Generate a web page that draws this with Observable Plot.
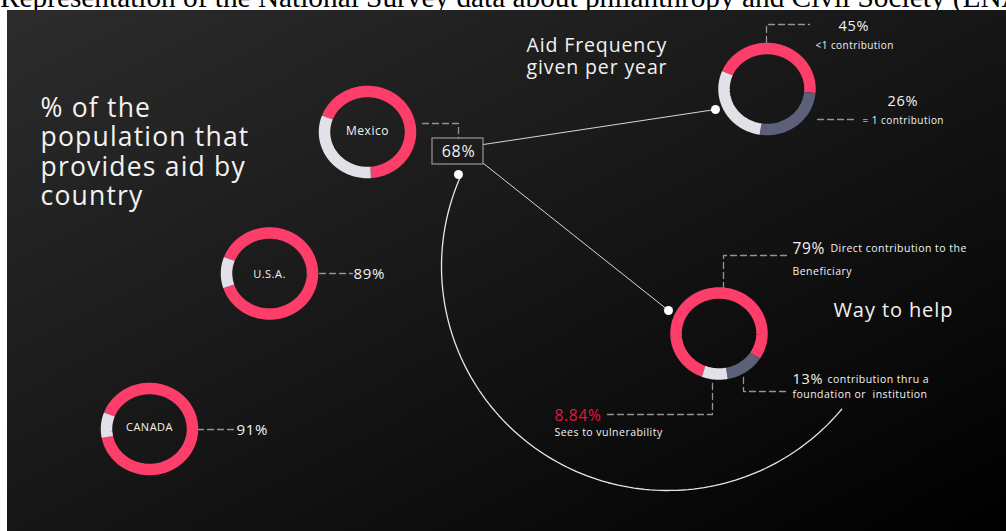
<!DOCTYPE html>
<html><head><meta charset="utf-8">
<script src="https://cdn.jsdelivr.net/npm/d3@7"></script>
<script src="https://cdn.jsdelivr.net/npm/@observablehq/plot@0.6"></script>
<style>
html,body{margin:0;padding:0;background:#fff;}
#title{height:10px;overflow:hidden;position:relative;width:1006px;}
#title div{position:absolute;left:0;top:-17px;font-family:"Liberation Serif","Times New Roman",serif;font-size:29.3px;line-height:29px;white-space:nowrap;color:#000;}
#panel{margin-left:7px;width:999px;height:521px;background:linear-gradient(to bottom right,#2c2c2c 0%,#141414 55%,#000 100%);}
#panel svg{display:block;background:transparent;}
#panel svg text{letter-spacing:0.045em;}
</style></head><body>
<div id="title"><div>Representation of the National Survey data about philanthropy and Civil Society (ENAFI)</div></div>
<div id="panel"></div>
<script>
// ---------- data ----------
const countries = ["Mexico", "U.S.A.", "CANADA"];
const countryShare = [68, 89, 91];
const aidLabels = ["<1 contribution", "= 1 contribution", "> 1 contribution"];
const aidShare = [45, 26, 29];
const helpLabels = ["Direct contribution to the", "contribution thru a", "Sees to vulnerability"];
const helpLabels2 = ["Beneficiary", "foundation or  institution", ""];
const helpShare = [79, 13, 8.84];
const headline = ["% of the", "population that", "provides aid by", "country"];
const aidTitle = ["Aid Frequency", "given per year"];
const helpTitle = ["Way to help"];

// ---------- layout (page coordinates) ----------
const ring = {rx: 43, ry: 40.5, width: 11.5};
const countryPos = [{cx: 367, cy: 131.5}, {cx: 269, cy: 273}, {cx: 149, cy: 428.5}];
const aidPos = {cx: 766.5, cy: 88.5};
const helpPos = {cx: 718.5, cy: 333};
const startAngle = {country: 291, aid: 293, help: 201};
const countryNameBase = [134, 277, 430];
const countryPctPos = [{x: 458, y: 156}, {x: 353, y: 278}, {x: 236, y: 434}];
const aidPctPos = [{x: 838, y: 30}, {x: 887, y: 105}];
const aidLblPos = [{x: 815, y: 48}, {x: 862, y: 123}];
const helpPctPos = [{x: 792, y: 253, c: "#f2f2f2"}, {x: 792, y: 383, c: "#f2f2f2"}, {x: 554, y: 420, c: "#e3163f"}];
const helpLblPos = [{x: 830, y: 251}, {x: 827, y: 382}, {x: 554, y: 435}];
const helpLbl2Pos = [{x: 792, y: 274}, {x: 792, y: 397}];
const box = {x1: 432, x2: 483, y1: 138, y2: 164};
const dashes = [
  [[422, 123], [458, 123], [458, 138]],
  [[319, 273], [352, 273]],
  [[197, 429], [234, 429]],
  [[766, 42], [766, 24], [809, 24]],
  [[817, 119], [855, 119]],
  [[723, 288], [723, 255], [788, 255]],
  [[743, 377], [743, 391], [788, 391]],
  [[712, 383], [712, 414], [604, 414]]
];
const links = [
  [[483, 144], [715, 109]],
  [[483, 163], [668, 310]]
];
const loopArc = {cx: 667, cy: 266, rx: 226, ry: 224, t0: 204, t1: 39.6};
const dotsPos = [[458, 174], [715, 109], [668, 310]];

const pink = "#fd3e6b", light = "#e1e1e7", slate = "#5c6179";
const textCol = "#f2f2f2", dashCol = "#939393";
const font = "'Open Sans', sans-serif";

function arcPoints(values, colors, pos, startDeg, key) {
  const total = d3.sum(values);
  const pts = [];
  let a0 = startDeg;
  values.forEach((v, i) => {
    const a1 = a0 + v / total * 360;
    const n = Math.max(2, Math.ceil((a1 - a0) / 2));
    for (let k = 0; k <= n; k++) {
      const a = (a0 + (a1 - a0) * k / n) * Math.PI / 180;
      pts.push({x: pos.cx + ring.rx * Math.sin(a), y: pos.cy - ring.ry * Math.cos(a), seg: key + "-" + i, color: colors[i]});
    }
    a0 = a1;
  });
  return pts;
}

let ringPts = [];
countryShare.forEach((v, i) => {
  ringPts = ringPts.concat(arcPoints([v, 100 - v], [pink, light], countryPos[i], startAngle.country, "c" + i));
});
ringPts = ringPts.concat(arcPoints(aidShare, [pink, slate, light], aidPos, startAngle.aid, "aid"));
ringPts = ringPts.concat(arcPoints(helpShare, [pink, slate, light], helpPos, startAngle.help, "help"));

const toPts = (paths) => paths.flatMap((p, i) => p.map(([x, y]) => ({x, y, z: i})));
const dashPts = toPts(dashes);
const linkPts = toPts(links);
const loopPts = d3.range(0, 121).map(k => {
  const t = (loopArc.t0 + (loopArc.t1 - loopArc.t0) * k / 120) * Math.PI / 180;
  return {x: loopArc.cx + loopArc.rx * Math.cos(t), y: loopArc.cy + loopArc.ry * Math.sin(t)};
});

const T = (data, opts) => Plot.text(data, Object.assign({fontFamily: font, fill: textCol, lineAnchor: "bottom", textAnchor: "start"}, opts));

const chart = Plot.plot({
  width: 999, height: 521, margin: 0,
  x: {domain: [7, 1006], range: [0, 999], axis: null},
  y: {domain: [10, 531], range: [0, 521], axis: null},
  color: {type: "identity"},
  style: {background: "transparent", overflow: "visible"},
  marks: [
    Plot.line(loopPts, {x: "x", y: "y", stroke: "#e8e8e8", strokeWidth: 1.3}),
    Plot.line(linkPts, {x: "x", y: "y", z: "z", stroke: "#d8d8d8", strokeWidth: 1}),
    Plot.line(dashPts, {x: "x", y: "y", z: "z", stroke: dashCol, strokeWidth: 1.3, strokeDasharray: "6,4"}),
    Plot.rect([box], {x1: "x1", x2: "x2", y1: "y1", y2: "y2", fill: "none", stroke: "#8f8f8f", strokeWidth: 1.3}),
    Plot.line(ringPts, {x: "x", y: "y", z: "seg", stroke: "color", strokeWidth: ring.width, strokeLinecap: "butt", strokeLinejoin: "round"}),
    Plot.dot(dotsPos, {x: d => d[0], y: d => d[1], r: 4.5, fill: "#ffffff"}),
    // headline (one multi-line text, last baseline at y)
    T([headline.join("\n")], {x: 40, y: 116 + 3 * 29.5, text: d => d, fontSize: 26.5, lineHeight: 29.5 / 26.5}),
    T([aidTitle.join("\n")], {x: 526, y: 73, text: d => d, fontSize: 19.5, lineHeight: 22 / 19.5}),
    T(helpTitle, {x: 833, y: 316, text: d => d, fontSize: 20}),
    // countries
    T(countries, {x: (d, i) => countryPos[i].cx, y: (d, i) => countryNameBase[i], text: d => d, fontSize: (d, i) => i === 0 ? 12 : 11, textAnchor: "middle"}),
    T(countryShare.slice(0, 1), {x: countryPctPos[0].x, y: countryPctPos[0].y, text: d => d + "%", fontSize: 16, textAnchor: "middle"}),
    T(countryShare.slice(1), {x: (d, i) => countryPctPos[i + 1].x, y: (d, i) => countryPctPos[i + 1].y, text: d => d + "%", fontSize: 15}),
    // aid frequency
    T(aidShare.slice(0, 2), {x: (d, i) => aidPctPos[i].x, y: (d, i) => aidPctPos[i].y, text: d => d + "%", fontSize: 14.5}),
    T(aidLabels.slice(0, 2), {x: (d, i) => aidLblPos[i].x, y: (d, i) => aidLblPos[i].y, text: d => d, fontSize: 10}),
    // way to help
    T(helpShare, {x: (d, i) => helpPctPos[i].x, y: (d, i) => helpPctPos[i].y, text: d => d + "%", fontSize: (d, i) => i === 1 ? 14.5 : 15.5, fill: (d, i) => helpPctPos[i].c}),
    T(helpLabels, {x: (d, i) => helpLblPos[i].x, y: (d, i) => helpLblPos[i].y, text: d => d, fontSize: 10.5}),
    T(helpLabels2.slice(0, 2), {x: (d, i) => helpLbl2Pos[i].x, y: (d, i) => helpLbl2Pos[i].y, text: d => d, fontSize: 10.5})
  ]
});
document.getElementById("panel").appendChild(chart);
</script>
</body></html>
